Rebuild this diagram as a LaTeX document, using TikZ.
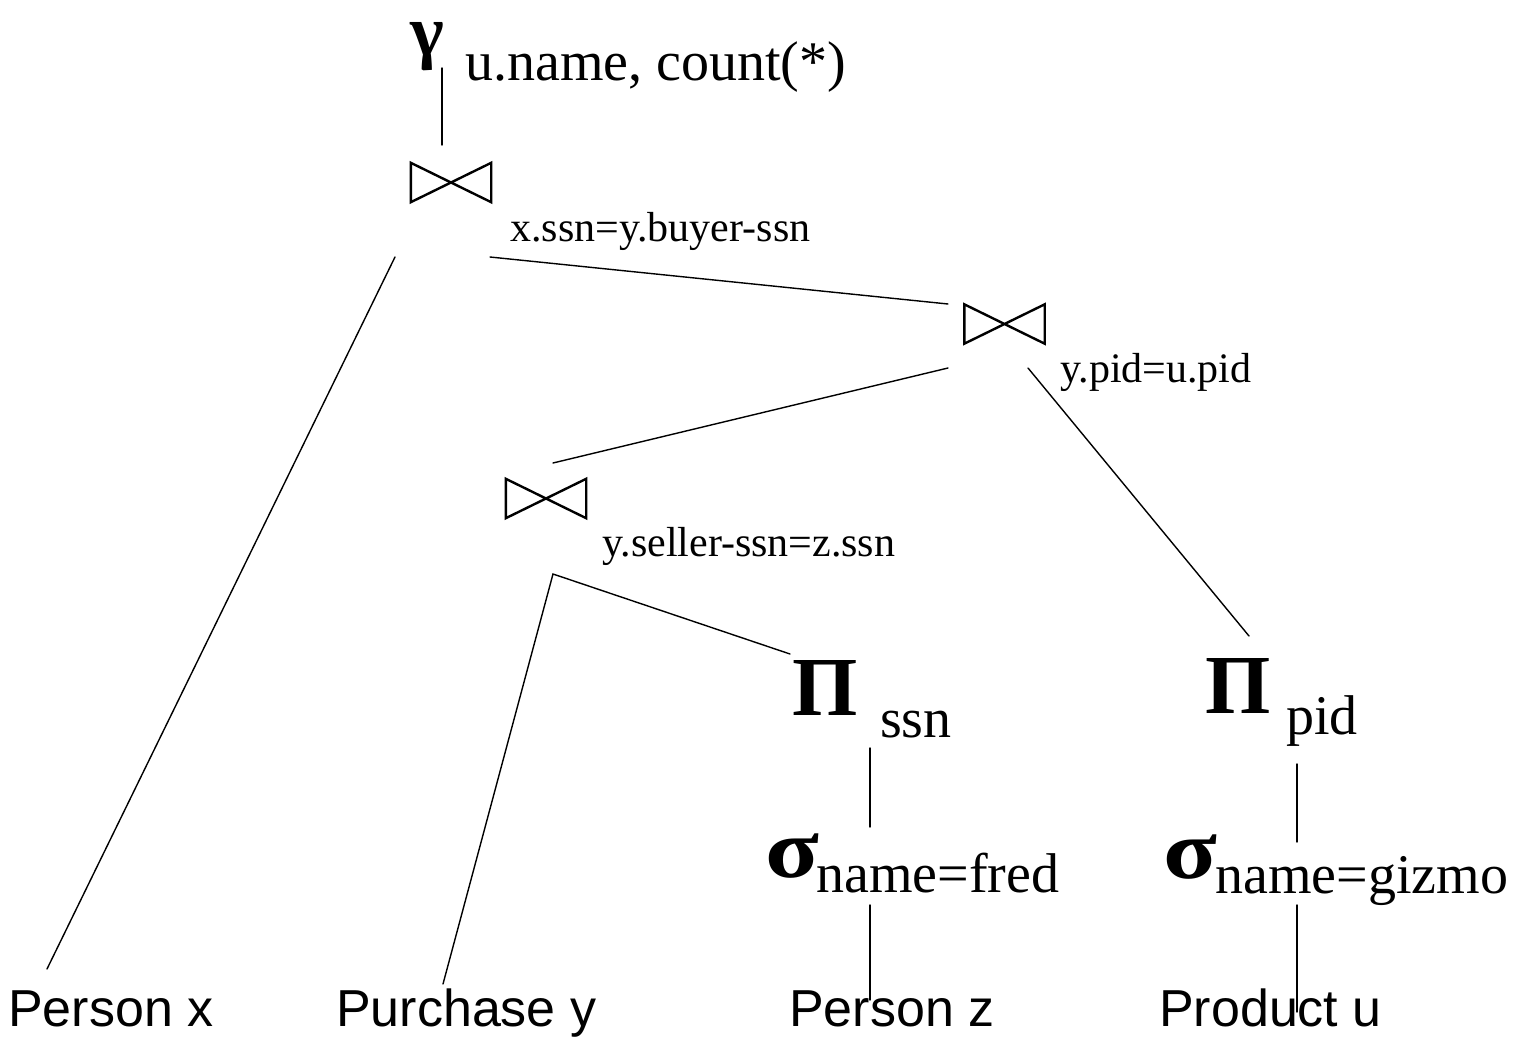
\documentclass[tikz,border=0pt]{standalone}
\usepackage{fontspec}
\setmainfont{Liberation Serif}
\newfontfamily\arialfont{Liberation Sans}
\begin{document}
\begin{tikzpicture}[x=1pt,y=-1pt]
\tikzset{
  conn/.style={line width=1.4pt, line cap=round},
  tiepen/.style={line width=2.4pt, line join=miter},
  tiebox/.style={inner sep=0, minimum width=80pt, minimum height=39pt},
  cond/.style={inner sep=0, anchor=base west, font=\fontsize{42}{42}\selectfont},
  sub/.style={inner sep=0, anchor=base west, font=\fontsize{56}{56}\selectfont},
  greek/.style={inner sep=0, anchor=base west, font=\bfseries\fontsize{84}{84}\selectfont},
  rel/.style={inner sep=0, anchor=base west, font=\arialfont\fontsize{52}{52}\selectfont},
}
\useasboundingbox (0,0) rectangle (1523,1036);

% gamma
\node[greek, font=\bfseries\fontsize{72}{72}\selectfont] (gam) at (410,55) {γ};
\node[sub] (gamsub) at (465,80) {u.name, count(*)};

% joins
\node[tiebox] (j1) at (451,182.5) {};
\node[tiebox] (j2) at (1004.5,324) {};
\node[tiebox] (j3) at (546,498.5) {};
\foreach \j in {j1,j2,j3}
  \draw[tiepen] (\j.north west) -- (\j.south east) -- (\j.north east) -- (\j.south west) -- cycle;
\node[cond] (c1) at (510,241) {x.ssn=y.buyer-ssn};
\node[cond] (c2) at (1060,382) {y.pid=u.pid};
\node[cond] (c3) at (602,556) {y.seller-ssn=z.ssn};

% projections and selections
\node[greek] (pi1) at (792,715) {Π};
\node[sub] (pi1s) at (880,737) {ssn};
\node[greek] (pi2) at (1205,713) {Π};
\node[sub] (pi2s) at (1286,734) {pid};
\node[greek] (sg1) at (765,877) {\scalebox{1.18}[1]{σ}};
\node[sub] (sg1s) at (816,892) {name=fred};
\node[greek] (sg2) at (1163,878) {\scalebox{1.18}[1]{σ}};
\node[sub] (sg2s) at (1215,893) {name=gizmo};

% relations
\node[rel] (px) at (8,1026) {Person x};
\node[rel] (py) at (336,1026) {Purchase y};
\node[rel] (pz) at (789,1026) {Person z};
\node[rel] (pu) at (1159,1026) {Product u};

% connector end points
\coordinate (gamB) at (442,68);
\coordinate (j1T) at (442,145);
\coordinate (j1L) at (395,257);
\coordinate (j1R) at (490,257);
\coordinate (pxT) at (47,969);
\coordinate (j2L) at (948,304);
\coordinate (j2BL) at (948,368);
\coordinate (j2BR) at (1028,368);
\coordinate (j3T) at (553,463);
\coordinate (pi2T) at (1249,636);
\coordinate (j3B) at (553,574);
\coordinate (pyT) at (443,984);
\coordinate (pi1T) at (790,654);
\coordinate (pi1B) at (870,748);
\coordinate (sg1T) at (870,827);
\coordinate (sg1B) at (870,905);
\coordinate (pzT) at (870,1000);
\coordinate (pi2B) at (1297,764);
\coordinate (sg2T) at (1297,842);
\coordinate (sg2B) at (1297,905);
\coordinate (puT) at (1297,1012);

\draw[conn] (gamB) -- (j1T);
\draw[conn] (j1L) -- (pxT);
\draw[conn] (j1R) -- (j2L);
\draw[conn] (j2BL) -- (j3T);
\draw[conn] (j2BR) -- (pi2T);
\draw[conn] (pyT) -- (j3B) -- (pi1T);
\draw[conn] (pi1B) -- (sg1T);
\draw[conn] (sg1B) -- (pzT);
\draw[conn] (pi2B) -- (sg2T);
\draw[conn] (sg2B) -- (puT);
\end{tikzpicture}
\end{document}
